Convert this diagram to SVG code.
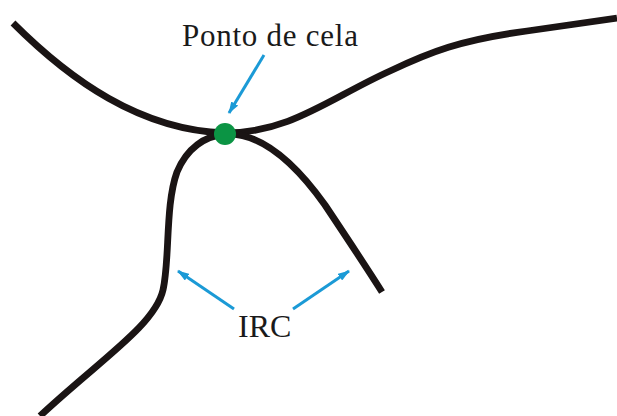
<svg xmlns="http://www.w3.org/2000/svg" width="617" height="416" viewBox="0 0 617 416">
  <style>
    .curve { fill: none; stroke: #1a1414; stroke-width: 6.8; stroke-linecap: butt; stroke-linejoin: round; }
    .ptr { fill: none; stroke: #1b9ad6; stroke-width: 3; marker-end: url(#tip); }
    .label { font-family: "Liberation Serif", "Times New Roman", serif; fill: #1a1a1a; }
  </style>
  <defs>
    <marker id="tip" viewBox="0 0 12 8" refX="11" refY="4" markerWidth="12" markerHeight="8" markerUnits="userSpaceOnUse" orient="auto">
      <path d="M0,0 L12,4 L0,8 Z" fill="#1b9ad6"/>
    </marker>
  </defs>

  <g id="curves">
    <path class="curve" d="M13,23 C70,80 140,130 225,133 C290,133 330,98 390,71 C430,52 460,40 527,31 L617,18"/>
    <path class="curve" d="M40,416 C100,360 155,325 163,290 C170,260 165,205 177,172 C187,148 205,136 225,134 C265,132 300,170 325,205 C345,235 365,265 382,292"/>
  </g>

  <g id="saddle">
    <circle cx="225" cy="134" r="11" fill="#0b9444"/>
  </g>

  <g id="connectors">
    <line class="ptr" x1="264" y1="55" x2="229" y2="113"/>
    <line class="ptr" x1="234" y1="309" x2="178" y2="271"/>
    <line class="ptr" x1="293" y1="309" x2="349" y2="271"/>
  </g>

  <g id="label-saddle">
    <text class="label" x="182" y="46" font-size="31" textLength="176">Ponto de cela</text>
  </g>
  <g id="label-irc">
    <text class="label" x="238" y="337" font-size="32">IRC</text>
  </g>
</svg>
